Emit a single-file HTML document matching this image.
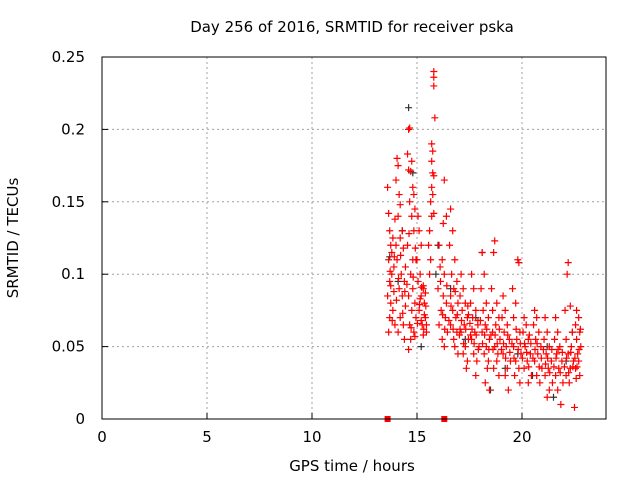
<!DOCTYPE html>
<html><head><meta charset="utf-8"><style>
body{margin:0;background:#fff;}
svg{display:block;font-family:"DejaVu Sans","Liberation Sans",sans-serif;}
</style></head><body>
<svg id="chart" width="640" height="480" xmlns="http://www.w3.org/2000/svg">
<rect width="640" height="480" fill="#fff"/>
<g id="grid"></g>
<g id="ticks"></g>
<g id="black"></g>
<g id="red"></g>
<rect x="102" y="57" width="504" height="362" fill="none" stroke="#000" stroke-width="1"/>
<text x="352" y="32" font-size="15" text-anchor="middle">Day 256 of 2016, SRMTID for receiver pska</text>
<text x="352" y="471" font-size="15" text-anchor="middle">GPS time / hours</text>
<text transform="translate(18,238) rotate(-90)" font-size="15" text-anchor="middle">SRMTID / TECUs</text>
</svg>
<script>
const xTicks=[0,5,10,15,20];
const yTicks=[0,0.05,0.1,0.15,0.2,0.25];
const yTickLabels=["0","0.05","0.1","0.15","0.2","0.25"];
const blackPts=[[14.6,0.215],[13.7,0.112],[14.1,0.095],[15.2,0.05],[18.1,0.115],[17.3,0.055],[19.2,0.035],[21.5,0.015],[22.1,0.04],[16.0,0.12],[14.8,0.17],[20.5,0.03],[18.5,0.02],[15.9,0.1],[14.3,0.13],[17.8,0.07],[19.8,0.045],[21.2,0.05],[22.4,0.06],[16.6,0.09]];
const redPts=[
[13.6,0.16],[13.65,0.142],[13.7,0.13],[13.75,0.12],[13.65,0.11],[13.8,0.1],[13.7,0.095],[13.9,0.088],[13.75,0.08],[13.85,0.075],[13.7,0.07],[13.95,0.065],[13.65,0.06],[13.9,0.105],[13.8,0.115],[13.95,0.138],[13.85,0.125],[13.6,0.085],[13.75,0.092],
[14.05,0.18],[14.1,0.175],[14.0,0.165],[14.15,0.155],[14.2,0.148],[14.1,0.14],[14.3,0.13],[14.2,0.125],[14.35,0.118],[14.05,0.11],[14.25,0.1],[14.4,0.095],[14.15,0.09],[14.3,0.085],[14.45,0.078],[14.2,0.07],[14.35,0.065],[14.1,0.06],[14.4,0.055],[14.0,0.12],[14.45,0.105],
[14.6,0.2],[14.65,0.201],[14.55,0.183],[14.75,0.178],[14.6,0.172],[14.7,0.171],[14.8,0.16],[14.65,0.15],[14.9,0.145],[14.75,0.14],[14.85,0.13],[14.55,0.12],[14.95,0.11],[14.7,0.1],[14.8,0.09],[14.6,0.085],[14.9,0.08],[14.75,0.075],[14.95,0.07],[14.65,0.065],[14.85,0.06],[14.7,0.055],[14.6,0.048],[14.9,0.057],[14.8,0.11],[14.85,0.155],
[15.05,0.14],[15.1,0.13],[15.2,0.12],[15.0,0.11],[15.15,0.1],[15.3,0.09],[15.2,0.085],[15.35,0.08],[15.1,0.075],[15.4,0.07],[15.25,0.065],[15.45,0.06],[15.3,0.092],[15.4,0.087],[15.35,0.072],[15.2,0.068],[15.45,0.065],[15.3,0.058],[15.05,0.095],[15.15,0.083],
[15.8,0.24],[15.8,0.236],[15.8,0.23],[15.85,0.208],[15.7,0.19],[15.75,0.185],[15.7,0.178],[15.75,0.17],[15.8,0.168],[15.7,0.16],[15.75,0.155],[15.65,0.15],[15.7,0.14],[15.8,0.142],[15.6,0.13],[15.55,0.12],[15.6,0.1],[15.65,0.11],
[16.05,0.12],[16.2,0.11],[16.1,0.105],[16.3,0.1],[16.0,0.09],[16.25,0.085],[16.4,0.08],[16.15,0.075],[16.35,0.07],[16.05,0.065],[16.45,0.06],[16.2,0.055],[16.3,0.05],[16.3,0.165],[16.4,0.14],[16.25,0.135],
[16.6,0.145],[16.7,0.13],[16.55,0.12],[16.8,0.11],[16.65,0.1],[16.9,0.095],[16.75,0.09],[16.6,0.085],[16.95,0.08],[16.7,0.075],[16.85,0.07],[16.6,0.065],[16.9,0.06],[16.75,0.055],[16.8,0.05],[16.95,0.045],
[17.1,0.1],[17.2,0.09],[17.05,0.085],[17.3,0.08],[17.15,0.075],[17.4,0.07],[17.25,0.065],[17.1,0.06],[17.45,0.055],[17.3,0.05],[17.2,0.045],[17.4,0.04],[17.35,0.035],[17.05,0.062],[17.45,0.072],
[17.6,0.1],[17.7,0.09],[17.55,0.08],[17.8,0.075],[17.65,0.07],[17.9,0.065],[17.75,0.06],[17.6,0.055],[17.95,0.05],[17.7,0.045],[17.85,0.04],[17.8,0.03],[17.55,0.058],[17.9,0.068],
[18.1,0.115],[18.2,0.1],[18.05,0.09],[18.3,0.08],[18.15,0.075],[18.4,0.07],[18.25,0.065],[18.1,0.06],[18.45,0.055],[18.3,0.05],[18.2,0.045],[18.4,0.04],[18.35,0.035],[18.25,0.025],[18.45,0.02],
[18.7,0.123],[18.65,0.115],[18.55,0.09],[18.8,0.08],[18.6,0.075],[18.9,0.07],[18.75,0.065],[18.6,0.06],[18.95,0.055],[18.7,0.05],[18.85,0.045],[18.8,0.04],[18.65,0.035],[18.9,0.03],
[19.1,0.085],[19.2,0.075],[19.05,0.07],[19.3,0.065],[19.15,0.06],[19.4,0.055],[19.25,0.05],[19.1,0.045],[19.45,0.04],[19.3,0.035],[19.2,0.03],[19.35,0.02],
[19.8,0.11],[19.85,0.108],[19.55,0.09],[19.7,0.08],[19.6,0.07],[19.9,0.06],[19.75,0.055],[19.6,0.05],[19.95,0.045],[19.7,0.04],[19.85,0.035],[19.65,0.03],[19.9,0.025],
[20.1,0.07],[20.2,0.065],[20.05,0.06],[20.3,0.055],[20.15,0.05],[20.4,0.045],[20.25,0.04],[20.1,0.035],[20.45,0.03],[20.3,0.025],[20.35,0.058],
[20.6,0.075],[20.7,0.07],[20.55,0.065],[20.8,0.06],[20.65,0.055],[20.9,0.05],[20.75,0.045],[20.6,0.04],[20.95,0.035],[20.7,0.03],[20.85,0.025],
[21.1,0.07],[21.2,0.06],[21.05,0.055],[21.3,0.05],[21.15,0.045],[21.4,0.04],[21.25,0.035],[21.1,0.03],[21.45,0.025],[21.3,0.02],[21.2,0.015],
[21.6,0.07],[21.7,0.06],[21.55,0.055],[21.8,0.05],[21.65,0.045],[21.9,0.04],[21.75,0.035],[21.6,0.03],[21.95,0.025],[21.7,0.02],[21.85,0.01],
[22.2,0.108],[22.15,0.1],[22.3,0.078],[22.05,0.075],[22.4,0.06],[22.1,0.055],[22.35,0.05],[22.2,0.045],[22.45,0.04],[22.3,0.035],[22.1,0.03],[22.25,0.025],
[22.6,0.075],[22.7,0.07],[22.55,0.065],[22.75,0.06],[22.6,0.055],[22.8,0.05],[22.65,0.045],[22.7,0.04],[22.55,0.035],[22.75,0.03],[22.5,0.008],
[13.72,0.102],[13.82,0.068],[13.92,0.112],[14.02,0.082],[14.12,0.097],[14.22,0.113],[14.32,0.073],[14.42,0.088],[14.52,0.093],[14.62,0.128],[14.72,0.063],[14.82,0.098],[14.92,0.118],[15.02,0.066],[15.12,0.079],[15.22,0.091],[15.32,0.062],[15.42,0.078],
[16.12,0.095],[16.22,0.072],[16.32,0.062],[16.42,0.092],[16.52,0.068],[16.62,0.078],[16.72,0.062],[16.82,0.088],[16.92,0.072],[17.02,0.058],[17.12,0.068],[17.22,0.052],[17.32,0.062],[17.42,0.078],[17.52,0.066],[17.62,0.062],[17.72,0.052],[17.82,0.058],[17.92,0.048],
[18.02,0.068],[18.12,0.052],[18.22,0.058],[18.32,0.062],[18.42,0.048],[18.52,0.058],[18.62,0.048],[18.72,0.058],[18.82,0.052],[18.92,0.062],[19.02,0.048],[19.12,0.052],[19.22,0.042],[19.32,0.058],[19.42,0.046],[19.52,0.052],[19.62,0.042],[19.72,0.062],[19.82,0.048],[19.92,0.052],
[20.02,0.042],[20.12,0.052],[20.22,0.046],[20.32,0.036],[20.42,0.052],[20.52,0.042],[20.62,0.048],[20.72,0.052],[20.82,0.036],[20.92,0.042],[21.02,0.048],[21.12,0.038],[21.22,0.042],[21.32,0.032],[21.42,0.048],[21.52,0.036],[21.62,0.042],[21.72,0.048],[21.82,0.032],[21.92,0.046],
[22.02,0.036],[22.12,0.042],[22.22,0.032],[22.32,0.046],[22.42,0.036],[22.52,0.042],[22.62,0.036],[22.72,0.048],[22.78,0.062],[22.58,0.028]
];
const zeroPts=[13.6,16.3];
const NS="http://www.w3.org/2000/svg";
const X0=102,X1=606,Y0=419,Y1=57,XMAX=24,YMAX=0.25;
function sx(v){return X0+(X1-X0)*v/XMAX;}
function sy(v){return Y0-(Y0-Y1)*v/YMAX;}
function mk(tag,attrs,parent){const e=document.createElementNS(NS,tag);for(const k in attrs)e.setAttribute(k,attrs[k]);parent.appendChild(e);return e;}
const grid=document.getElementById('grid'),ticks=document.getElementById('ticks');
xTicks.forEach(t=>{
  const x=sx(t);
  if(t>0){const g=mk('line',{x1:x,x2:x,y1:Y0,y2:Y1,stroke:'#a0a0a0','stroke-dasharray':'2,3'},grid);
  
  }
  const tk=mk('line',{x1:x,x2:x,y1:Y0,y2:Y0-6,stroke:'#000'},ticks);
  
  
  const lb=mk('text',{x:x,y:Y0+23,'font-size':15,'text-anchor':'middle'},ticks);lb.textContent=String(t);
  
  
});
yTicks.forEach((t,i)=>{
  const y=sy(t);
  if(t>0&&t<YMAX){const g=mk('line',{x1:X0,x2:X1,y1:y,y2:y,stroke:'#a0a0a0','stroke-dasharray':'2,3'},grid);
  
  }
  const tk=mk('line',{x1:X0,x2:X0+6,y1:y,y2:y,stroke:'#000'},ticks);
  
  
  const lb=mk('text',{x:X0-17,y:y+5,'font-size':15,'text-anchor':'end'},ticks);lb.textContent=yTickLabels[i];
  
  
});
function plus(p,col,parent){
  const x=sx(p[0]),y=sy(p[1]);
  const e=mk('path',{d:`M${x-3.5},${y}H${x+3.5}M${x},${y-3.5}V${y+3.5}`,stroke:col,'stroke-width':1.2,fill:'none'},parent);
  
  
}
const bg=document.getElementById('black'),rg=document.getElementById('red');
blackPts.forEach(p=>plus(p,'#333',bg));
redPts.forEach(p=>plus(p,'#f00',rg));
zeroPts.forEach(h=>{
  const e=mk('rect',{x:sx(h)-3,y:Y0-3,width:6,height:6,fill:'#f00'},rg);
  
  
});
</script>
</body></html>
